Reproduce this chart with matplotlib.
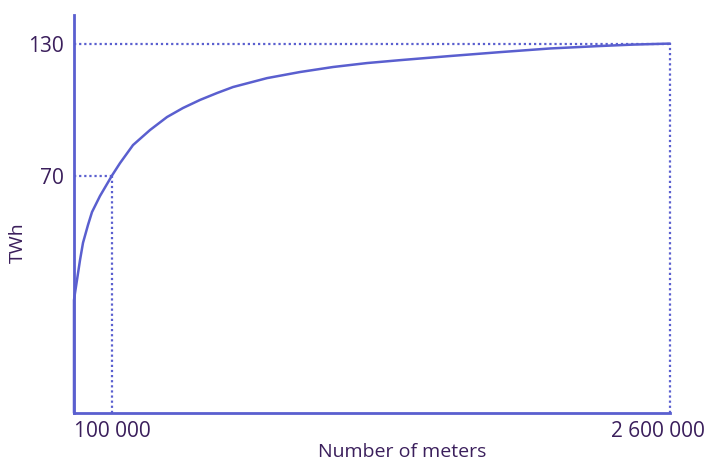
import numpy as np
import matplotlib
matplotlib.use("Agg")
import matplotlib.pyplot as plt
from matplotlib.transforms import ScaledTranslation

# schematic curve: TWh saved vs number of meters
meters = [0, 0, 1350, 4950, 11300, 18200, 30700, 41300, 63800, 100000, 125500,
          168400, 227300, 288600, 348100, 413400, 480200, 544400, 684600,
          825200, 969800, 1122000, 1273000, 1507000, 1747000, 1993000,
          2243000, 2410000, 2600000]
twh = [0, 24.7, 26.9, 31.1, 37.8, 43.9, 50.5, 55.4, 61.7, 70, 75.2,
       82.9, 89.5, 95.3, 99.4, 103.1, 106.3, 109.1, 113.3,
       116.2, 118.6, 120.5, 121.9, 123.9, 125.8, 127.6,
       128.8, 129.5, 130]

x_marks = [100000, 2600000]
x_labels = ["100 000", "2 600 000"]
y_marks = [70, 130]
y_labels = ["70", "130"]

line_col = "#5a5fcf"
text_col = "#3b1f5c"
plt.rcParams["font.family"] = ["Open Sans", "DejaVu Sans"]

# the drawing is not to scale, so use power scales to match it
px, py = 0.845, 0.714
def fx(v): return np.power(np.clip(v, 0, None), px)
def ix(v): return np.power(np.clip(v, 0, None), 1 / px)
def fy(v): return np.power(np.clip(v, 0, None), py)
def iy(v): return np.power(np.clip(v, 0, None), 1 / py)

fig = plt.figure(figsize=(7.12, 4.62), dpi=100)
ax = fig.add_axes([74 / 712, 49 / 462, 596 / 712, 398 / 462])
ax.set_xscale("function", functions=(fx, ix))
ax.set_yscale("function", functions=(fy, iy))

ax.plot(meters, twh, color=line_col, lw=1.8, solid_joinstyle="round",
        solid_capstyle="round", zorder=3, clip_on=False)

dots = dict(color=line_col, lw=1.6, linestyle=(0, (1, 1.3)), zorder=2, clip_on=False)
for xm, ym in zip(x_marks, y_marks):
    ax.plot([0, xm], [ym, ym], **dots)
    ax.plot([xm, xm], [0, ym], **dots)

ax.set_xlim(0, 2600000)
ax.set_ylim(0, 144.3)

ax.set_xticks(x_marks)
ax.set_xticklabels(x_labels)
ax.set_yticks(y_marks)
ax.set_yticklabels(y_labels)
ax.tick_params(length=0, labelsize=15, labelcolor=text_col)
ax.tick_params(axis="x", pad=6)
ax.tick_params(axis="y", pad=7)
# the last label sits a bit left of its mark in the original
last = ax.xaxis.get_ticklabels()[1]
last.set_transform(last.get_transform() + ScaledTranslation(-12 / 100, 0, fig.dpi_scale_trans))

ax.set_xlabel("Number of meters", fontsize=14, color=text_col, va="center")
ax.xaxis.set_label_coords(0.55, -0.098)
ax.set_ylabel("TWh", fontsize=14, color=text_col, va="center")
ax.yaxis.set_label_coords(-0.094, 0.427)

for s in ["top", "right"]:
    ax.spines[s].set_visible(False)
for s in ["left", "bottom"]:
    ax.spines[s].set_color(line_col)
    ax.spines[s].set_linewidth(2)

fig.savefig("out.png", dpi=100, facecolor="white")
